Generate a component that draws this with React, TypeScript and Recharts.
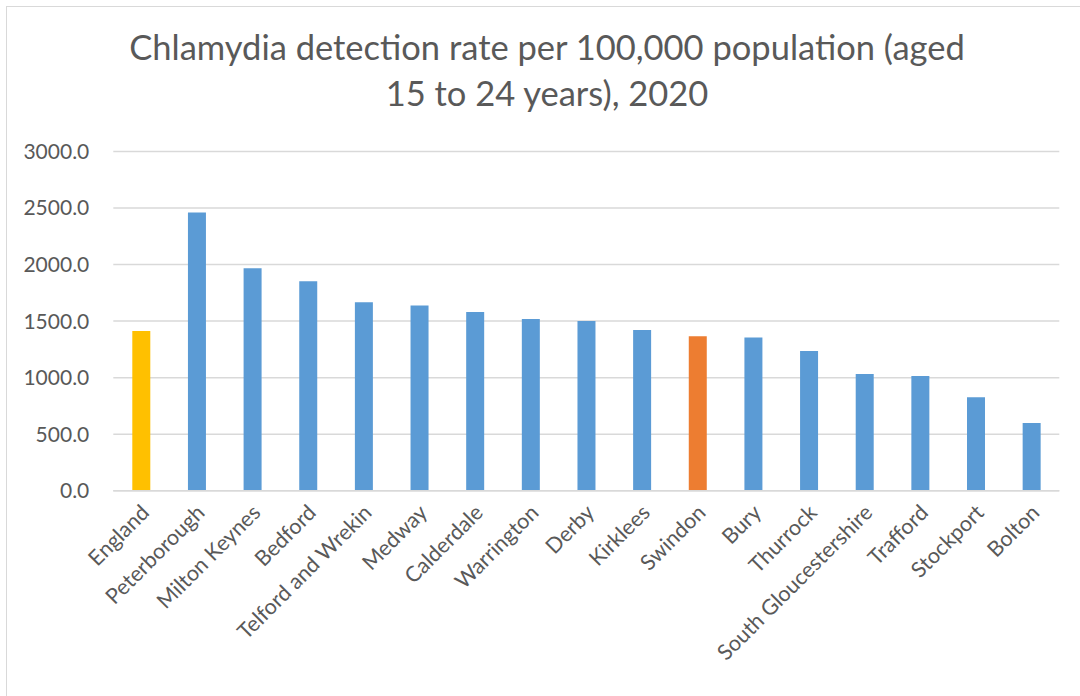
import React from 'react';
import { BarChart, Bar, Cell, XAxis, YAxis, CartesianGrid } from 'recharts';

// Chlamydia detection rate per 100,000 population aged 15-24, 2020
const areas = [
  'England',
  'Peterborough',
  'Milton Keynes',
  'Bedford',
  'Telford and Wrekin',
  'Medway',
  'Calderdale',
  'Warrington',
  'Derby',
  'Kirklees',
  'Swindon',
  'Bury',
  'Thurrock',
  'South Gloucestershire',
  'Trafford',
  'Stockport',
  'Bolton',
];
const rates = [1413, 2460, 1968, 1853, 1667, 1637, 1581, 1519, 1501, 1422, 1366, 1354, 1236, 1032, 1015, 826, 599];
const yTicks = [0, 500, 1000, 1500, 2000, 2500, 3000];

const BLUE = '#5B9BD5';
const highlight: Record<string, string> = {
  England: '#FFC000',
  Swindon: '#ED7D31',
};

const FONT = 'Lato, "Open Sans", sans-serif';
const TEXT = '#595959';

const data = areas.map((area, i) => ({ area, rate: rates[i] }));

const AreaTick = (props: any) => {
  const { x, y, payload } = props;
  const ax = x + 4;
  const ay = y + 10;
  return (
    <text
      x={ax}
      y={ay}
      dy="0.35em"
      transform={`rotate(-45, ${ax}, ${ay})`}
      textAnchor="end"
      fill={TEXT}
      fontSize={21.5}
      fontFamily={FONT}
    >
      {payload.value}
    </text>
  );
};

export default function App() {
  return (
    <div
      style={{
        position: 'absolute',
        left: 0,
        top: 0,
        width: 1080,
        height: 696,
        overflow: 'hidden',
        background: '#fff',
      }}
    >
      <div
        style={{
          position: 'absolute',
          left: 6,
          top: 6,
          width: 1100,
          height: 720,
          border: '1.5px solid #d9d9d9',
        }}
      />
      <div
        style={{
          position: 'absolute',
          left: 0,
          top: 24,
          width: 1094,
          textAlign: 'center',
          fontFamily: FONT,
          fontSize: 34.5,
          lineHeight: '46px',
          color: TEXT,
        }}
      >
        Chlamydia detection rate per 100,000 population (aged
        <br />
        15 to 24 years), 2020
      </div>
      <BarChart
        width={1080}
        height={696}
        data={data}
        margin={{ top: 151.5, right: 20.7, bottom: 0, left: 0 }}
        style={{ position: 'absolute', left: 0, top: 0 }}
      >
        <CartesianGrid vertical={false} stroke="#d9d9d9" strokeWidth={1.5} />
        <XAxis
          dataKey="area"
          interval={0}
          height={205.3}
          axisLine={{ stroke: '#d9d9d9', strokeWidth: 1.5 }}
          tickLine={false}
          tick={<AreaTick />}
        />
        <YAxis
          width={113.3}
          domain={[0, 3000]}
          ticks={yTicks}
          axisLine={false}
          tickLine={false}
          tickMargin={18}
          tickFormatter={(v: number) => v.toFixed(1)}
          tick={{ fill: TEXT, fontSize: 21, fontFamily: FONT }}
        />
        <Bar dataKey="rate" barSize={18} isAnimationActive={false}>
          {data.map((d) => (
            <Cell key={d.area} fill={highlight[d.area] ?? BLUE} />
          ))}
        </Bar>
      </BarChart>
    </div>
  );
}
